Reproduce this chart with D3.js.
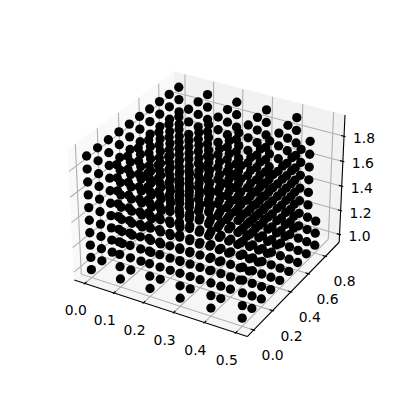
<!DOCTYPE html>
<html>
<head>
<meta charset="utf-8">
<script src="https://cdn.jsdelivr.net/npm/d3@7"></script>
<style>
  html, body { margin: 0; padding: 0; background: #fff; }
  svg { display: block; }
  text { font-family: "DejaVu Sans"; font-size: 13.9px; fill: #000; }
</style>
</head>
<body>
<svg id="mainFrame"></svg>
<script>
const xValues = [0.0, 0.1, 0.2, 0.3, 0.4, 0.5];
const yValues = [0.0, 0.1, 0.2, 0.3, 0.4, 0.5, 0.6, 0.7, 0.8, 0.9];
const zValues = [1.0, 1.1, 1.2, 1.3, 1.4, 1.5, 1.6, 1.7, 1.8, 1.9];

// highest z that exists in the far corner columns: [x, y, top z]
const cutColumns = [[0.5, 0.9, 0], [0.5, 0.8, 1.2]];

const xTicks = [0.0, 0.1, 0.2, 0.3, 0.4, 0.5];
const yTicks = [0.0, 0.2, 0.4, 0.6, 0.8];
const zTicks = [1.0, 1.2, 1.4, 1.6, 1.8];

const xLim = [-0.025, 0.525];
const yLim = [-0.045, 0.945];
const zLim = [0.955, 1.945];

const width = 400, height = 400;
const svg = d3.select('#mainFrame').attr('width', width).attr('height', height);

// data -> unit box, same proportions as a default mplot3d box
const boxSide = 1.1429, boxTall = 0.8572;
const worldX = d3.scaleLinear().domain(xLim).range([0, boxSide]);
const worldY = d3.scaleLinear().domain(yLim).range([0, boxSide]);
const worldZ = d3.scaleLinear().domain(zLim).range([0, boxTall]);

// projected plane -> pixels
const pxX = d3.scaleLinear().domain([-0.095, 0.09]).range([51, 359]);
const pxY = d3.scaleLinear().domain([-0.095, 0.09]).range([356, 48]);

const dist = 10;
const elev = 30 * Math.PI / 180, azim = -60 * Math.PI / 180;
const center = [boxSide / 2, boxSide / 2, boxTall / 2];
const w = [Math.cos(elev) * Math.cos(azim), Math.cos(elev) * Math.sin(azim), Math.sin(elev)];
const eye = center.map((c, i) => c + dist * w[i]);

const cross3 = (a, b) => [a[1] * b[2] - a[2] * b[1], a[2] * b[0] - a[0] * b[2], a[0] * b[1] - a[1] * b[0]];
const dot3 = (a, b) => a[0] * b[0] + a[1] * b[1] + a[2] * b[2];
const u = (() => { const c = cross3([0, 0, 1], w); const n = Math.hypot(...c); return c.map(d => d / n); })();
const v = cross3(w, u);

const project = (x, y, z) => {
    const rel = [worldX(x) - eye[0], worldY(y) - eye[1], worldZ(z) - eye[2]];
    const depth = -dot3(rel, w);
    return [pxX(dot3(rel, u) / depth), pxY(dot3(rel, v) / depth), depth];
};

const line = d3.line();
const path3 = pts => line(pts.map(p => project(...p).slice(0, 2)));

// panes stick out a little past the limits
const pad = lim => (lim[1] - lim[0]) / 48;
const x0 = xLim[0] - pad(xLim), x1 = xLim[1] + pad(xLim);
const y0 = yLim[0] - pad(yLim), y1 = yLim[1] + pad(yLim);
const z0 = zLim[0] - pad(zLim), z1 = zLim[1] + pad(zLim);

const panes = [
    { fill: '#f9f9f9', pts: [[x0, y0, z0], [x0, y1, z0], [x0, y1, z1], [x0, y0, z1]] },
    { fill: '#f2f2f2', pts: [[x0, y1, z0], [x1, y1, z0], [x1, y1, z1], [x0, y1, z1]] },
    { fill: '#f6f6f6', pts: [[x0, y0, z0], [x1, y0, z0], [x1, y1, z0], [x0, y1, z0]] }
];
svg.append('g').attr('id', 'panes').selectAll('path').data(panes).join('path')
    .attr('d', d => path3(d.pts) + 'Z')
    .attr('fill', d => d.fill)
    .attr('stroke', d => d.fill)
    .attr('stroke-width', 0.8);

// grid lines
const gridPaths = [
    ...xTicks.map(t => [[t, y0, z0], [t, y1, z0], [t, y1, z1]]),
    ...yTicks.map(t => [[x1, t, z0], [x0, t, z0], [x0, t, z1]]),
    ...zTicks.map(t => [[x0, y0, t], [x0, y1, t], [x1, y1, t]])
];
svg.append('g').attr('id', 'grid').selectAll('path').data(gridPaths).join('path')
    .attr('d', path3)
    .attr('fill', 'none')
    .attr('stroke', '#b0b0b0')
    .attr('stroke-width', 1.1);

// axis lines
const axisPaths = [
    [[x0, y0, z0], [x1, y0, z0]],
    [[x1, y0, z0], [x1, y1, z0]],
    [[x1, y1, z0], [x1, y1, z1]]
];
svg.append('g').attr('id', 'axes').selectAll('path').data(axisPaths).join('path')
    .attr('d', path3)
    .attr('fill', 'none')
    .attr('stroke', '#000')
    .attr('stroke-width', 1.1);

// tick marks, they run along the neighbouring axis
const dY = (y1 - y0) / 12, dX = (x1 - x0) / 12;
const tickPaths = [
    ...xTicks.map(t => [[t, y0 + 0.2 * dY, z0], [t, y0 - 0.1 * dY, z0]]),
    ...yTicks.map(t => [[x1 - 0.2 * dX, t, z0], [x1 + 0.1 * dX, t, z0]]),
    ...zTicks.map(t => [[x1 - 0.2 * dX, y1, t], [x1 + 0.1 * dX, y1, t]])
];
svg.append('g').attr('id', 'ticks').selectAll('path').data(tickPaths).join('path')
    .attr('d', path3)
    .attr('fill', 'none')
    .attr('stroke', '#000')
    .attr('stroke-width', 1.1);

const tickLabels = [
    ...xTicks.map(t => ({ text: t.toFixed(1), at: project(t, y0, z0), dx: -9, dy: 27 })),
    ...yTicks.map(t => ({ text: t.toFixed(1), at: project(x1, t, z0), dx: 19, dy: 25 })),
    ...zTicks.map(t => ({ text: t.toFixed(1), at: project(x1, y1, t), dx: 20, dy: 2 }))
];
svg.append('g').attr('id', 'labels').selectAll('text').data(tickLabels).join('text')
    .attr('x', d => d.at[0] + d.dx)
    .attr('y', d => d.at[1] + d.dy)
    .attr('text-anchor', 'middle')
    .attr('dominant-baseline', 'central')
    .text(d => d.text);

const isCut = (x, y, z) => cutColumns.some(c => c[0] === x && c[1] === y && z > c[2]);

// the points, far ones first
const points = d3.cross(d3.cross(xValues, yValues), zValues, ([x, y], z) => [x, y, z])
    .filter(p => !isCut(...p))
    .map(p => project(...p))
    .sort((a, b) => d3.descending(a[2], b[2]));
svg.append('g').attr('id', 'points').selectAll('circle').data(points).join('circle')
    .attr('cx', d => d[0])
    .attr('cy', d => d[1])
    .attr('r', 4.65)
    .attr('fill', '#000');
</script>
</body>
</html>
